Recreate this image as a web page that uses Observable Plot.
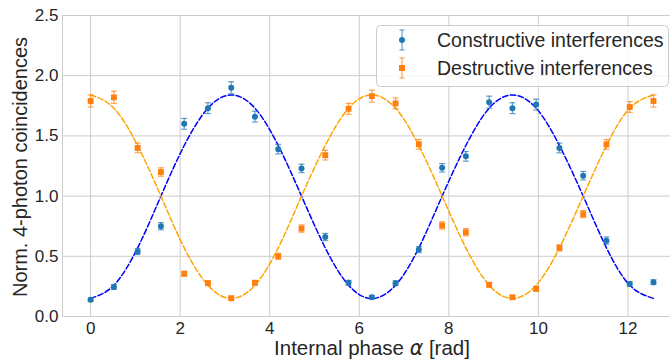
<!DOCTYPE html>
<html>
<head>
<meta charset="utf-8">
<script src="https://cdn.jsdelivr.net/npm/d3@7"></script>
<script src="https://cdn.jsdelivr.net/npm/@observablehq/plot@0.6"></script>
<style>
  html, body { margin: 0; padding: 0; background: white; }
  #chart { position: relative; width: 670px; height: 360px; }
</style>
</head>
<body>
<div id="chart"></div>
<script>
// ---- data ----
const phase = [0, 0.52, 1.05, 1.57, 2.09, 2.62, 3.14, 3.67, 4.19, 4.71, 5.24, 5.76, 6.28,
               6.81, 7.33, 7.85, 8.38, 8.90, 9.42, 9.95, 10.47, 11.00, 11.52, 12.04, 12.57];
const constructive = [0.14, 0.245, 0.54, 0.75, 1.60, 1.73, 1.90, 1.66, 1.39, 1.23, 0.66, 0.28, 0.16,
                      0.277, 0.556, 1.235, 1.33, 1.78, 1.73, 1.76, 1.40, 1.17, 0.63, 0.27, 0.285];
const constructiveErr = [0.015, 0.02, 0.025, 0.03, 0.045, 0.045, 0.05, 0.045, 0.04, 0.035, 0.03, 0.02, 0.015,
                         0.02, 0.025, 0.035, 0.04, 0.05, 0.045, 0.045, 0.04, 0.035, 0.03, 0.02, 0.02];
const destructive = [1.79, 1.82, 1.40, 1.20, 0.355, 0.277, 0.152, 0.28, 0.50, 0.73, 1.34, 1.725, 1.83,
                     1.77, 1.43, 0.756, 0.70, 0.263, 0.16, 0.23, 0.57, 0.85, 1.43, 1.74, 1.79];
const destructiveErr = [0.05, 0.05, 0.04, 0.035, 0.02, 0.02, 0.015, 0.02, 0.025, 0.03, 0.04, 0.045, 0.05,
                        0.045, 0.04, 0.03, 0.03, 0.02, 0.015, 0.02, 0.025, 0.03, 0.04, 0.045, 0.05];
// fitted curves, read at the same phases
const constructiveFit = [0.15, 0.26, 0.57, 1.00, 1.42, 1.73, 1.84, 1.73, 1.42, 1.00, 0.57, 0.26, 0.15,
                         0.26, 0.57, 1.00, 1.42, 1.73, 1.84, 1.73, 1.42, 1.00, 0.57, 0.26, 0.15];
const destructiveFit = [1.84, 1.73, 1.42, 1.00, 0.57, 0.26, 0.15, 0.26, 0.57, 1.00, 1.42, 1.73, 1.84,
                        1.73, 1.42, 1.00, 0.57, 0.26, 0.15, 0.26, 0.57, 1.00, 1.42, 1.73, 1.84];
const xTicks = [0, 2, 4, 6, 8, 10, 12];
const yTicks = [0, 0.5, 1.0, 1.5, 2.0, 2.5];
const xDomain = [-0.628, 12.95];
const yDomain = [0, 2.5];
const seriesNames = ["Constructive interferences", "Destructive interferences"];
const xLabel = ["Internal phase ", "α", " [rad]"];
const yLabel = "Norm. 4-photon coincidences";

// ---- tables built from arrays ----
const cons = phase.map((x, i) => ({x, y: constructive[i], lo: constructive[i] - constructiveErr[i], hi: constructive[i] + constructiveErr[i], fit: constructiveFit[i]}));
const dest = phase.map((x, i) => ({x, y: destructive[i], lo: destructive[i] - destructiveErr[i], hi: destructive[i] + destructiveErr[i], fit: destructiveFit[i]}));

const BLUE = "#1f77b4", ORANGE = "#ff7f0e";
const FONT = "'Liberation Sans', Arial, sans-serif";
const capSymbol = {
  draw(context, size) {
    const w = Math.sqrt(size / Math.PI);
    context.moveTo(-w, 0);
    context.lineTo(w, 0);
  }
};

function errorMarks(data, color) {
  return [
    Plot.ruleX(data, {x: "x", y1: "lo", y2: "hi", stroke: color, strokeOpacity: 0.7, strokeWidth: 1.2}),
    Plot.dot(data, {x: "x", y: "lo", symbol: capSymbol, r: 3, stroke: color, strokeOpacity: 0.7, strokeWidth: 1.2, fill: "none"}),
    Plot.dot(data, {x: "x", y: "hi", symbol: capSymbol, r: 3, stroke: color, strokeOpacity: 0.7, strokeWidth: 1.2, fill: "none"})
  ];
}

const chart = Plot.plot({
  width: 670,
  height: 360,
  marginLeft: 62,
  marginRight: 0,
  marginTop: 15,
  marginBottom: 44,
  style: {fontFamily: FONT, fontSize: "17px", color: "#262626", background: "white"},
  x: {domain: xDomain, label: null},
  y: {domain: yDomain, label: null},
  marks: [
    Plot.gridX(xTicks, {stroke: "#cccccc", strokeOpacity: 1, strokeWidth: 1}),
    Plot.gridY(yTicks, {stroke: "#cccccc", strokeOpacity: 1, strokeWidth: 1}),
    Plot.ruleX([xDomain[0]], {stroke: "#cccccc", strokeWidth: 1}),
    Plot.axisX(xTicks, {tickSize: 0, tickPadding: 5, label: null, fill: "#262626"}),
    Plot.axisY(yTicks, {tickSize: 0, tickPadding: 4, tickFormat: d3.format(".1f"), label: null, fill: "#262626"}),
    Plot.line(cons, {x: "x", y: "fit", curve: "natural", stroke: "#0000ff", strokeWidth: 1.5, strokeDasharray: "5.5,2.4"}),
    Plot.line(dest, {x: "x", y: "fit", curve: "natural", stroke: "#ffa500", strokeWidth: 1.5, strokeDasharray: "5.5,2.4"}),
    ...errorMarks(cons, BLUE),
    ...errorMarks(dest, ORANGE),
    Plot.dot(cons, {x: "x", y: "y", r: 3, fill: BLUE, stroke: "none"}),
    Plot.dot(dest, {x: "x", y: "y", r: 3.3, symbol: "square", fill: ORANGE, stroke: "none"})
  ]
});

document.getElementById("chart").appendChild(chart);

// ---- axis labels and legend ----
const svg = d3.select(chart);
const xt = svg.append("text")
  .attr("x", 372).attr("y", 355)
  .attr("text-anchor", "middle")
  .attr("font-family", FONT).attr("font-size", 20.5).attr("fill", "#262626");
xt.append("tspan").text(xLabel[0]);
xt.append("tspan").attr("font-style", "italic").attr("font-family", "'DejaVu Sans', " + FONT).text(xLabel[1]);
xt.append("tspan").text(xLabel[2]);

svg.append("text")
  .attr("transform", "translate(26.5,167) rotate(-90)")
  .attr("text-anchor", "middle")
  .attr("font-family", FONT).attr("font-size", 20).attr("fill", "#262626")
  .text(yLabel);

const lg = svg.append("g");
lg.append("rect")
  .attr("x", 376.5).attr("y", 25.5).attr("width", 292).attr("height", 61).attr("rx", 4)
  .attr("fill", "white").attr("fill-opacity", 0.8).attr("stroke", "#cccccc");
const rows = [{c: 40, color: BLUE, shape: "circle"}, {c: 68, color: ORANGE, shape: "square"}];
rows.forEach((r, i) => {
  const g = lg.append("g").attr("stroke", r.color).attr("stroke-opacity", 0.7).attr("stroke-width", 1.2);
  g.append("line").attr("x1", 402).attr("x2", 402).attr("y1", r.c - 10).attr("y2", r.c + 10);
  g.append("line").attr("x1", 399.5).attr("x2", 404.5).attr("y1", r.c - 10).attr("y2", r.c - 10);
  g.append("line").attr("x1", 399.5).attr("x2", 404.5).attr("y1", r.c + 10).attr("y2", r.c + 10);
  if (r.shape === "circle") {
    lg.append("circle").attr("cx", 402).attr("cy", r.c).attr("r", 3).attr("fill", r.color);
  } else {
    lg.append("rect").attr("x", 399).attr("y", r.c - 3).attr("width", 6).attr("height", 6).attr("fill", r.color);
  }
  lg.append("text")
    .attr("x", 437).attr("y", r.c).attr("dy", "0.36em")
    .attr("text-anchor", "start")
    .attr("font-family", FONT).attr("font-size", 19.5).attr("fill", "#262626")
    .text(seriesNames[i]);
});
</script>
</body>
</html>
